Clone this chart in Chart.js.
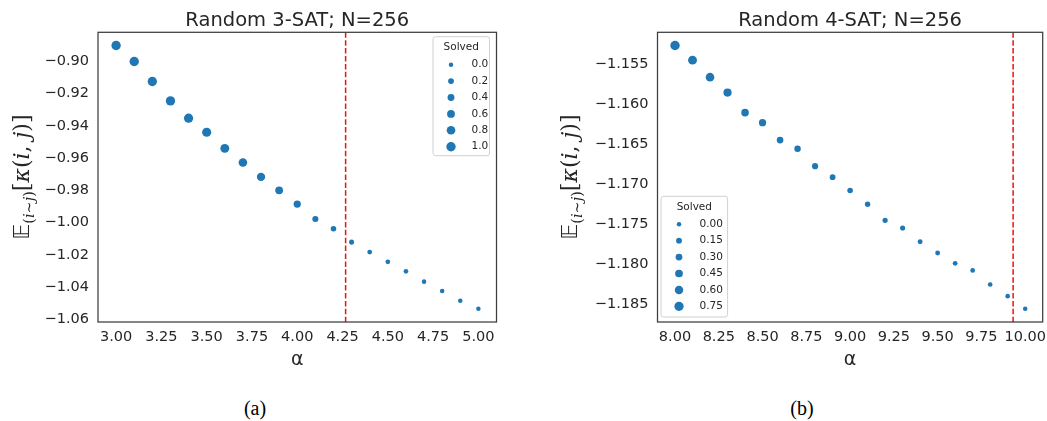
<!DOCTYPE html>
<html>
<head>
<meta charset="utf-8">
<script src="https://cdn.jsdelivr.net/npm/chart.js@4.4.1/dist/chart.umd.min.js"></script>
<style>
  html, body { margin: 0; padding: 0; background: #fff; overflow: hidden; width: 1047px; height: 421px; }
  .panel { position: absolute; top: 0; height: 372px; }
  .caption { position: absolute; top: 396px; width: 60px; text-align: center; font: 20px "Liberation Serif", "Times New Roman", serif; color: #000; line-height: 24px; }
</style>
</head>
<body>
<div class="panel" style="left:0;width:520px"><canvas id="chart3"></canvas></div>
<div class="panel" style="left:520px;width:550px"><canvas id="chart4"></canvas></div>
<div class="caption" style="left:225px">(a)</div>
<div class="caption" style="left:772px">(b)</div>
<script>
// --- 3-SAT panel ---
const alpha3 = [3.0, 3.1, 3.2, 3.3, 3.4, 3.5, 3.6, 3.7, 3.8, 3.9, 4.0, 4.1, 4.2, 4.3, 4.4, 4.5, 4.6, 4.7, 4.8, 4.9, 5.0];
const energy3 = [-0.8903, -0.9002, -0.9126, -0.9246, -0.9353, -0.9440, -0.9540, -0.9628, -0.9717, -0.9800, -0.9885,
                 -0.9978, -1.0038, -1.0121, -1.0183, -1.0243, -1.0302, -1.0366, -1.0424, -1.0484, -1.0534];
const solved3 = [1.0, 1.0, 0.98, 0.97, 0.95, 0.92, 0.87, 0.8, 0.72, 0.6, 0.48, 0.25, 0.16, 0.08, 0.05, 0.03, 0.02, 0.01, 0.01, 0, 0];
const xTicks3 = [3.0, 3.25, 3.5, 3.75, 4.0, 4.25, 4.5, 4.75, 5.0];
const yTicks3 = [-0.90, -0.92, -0.94, -0.96, -0.98, -1.00, -1.02, -1.04, -1.06];
const legendLevels3 = [0.0, 0.2, 0.4, 0.6, 0.8, 1.0];
const threshold3 = 4.267;

// --- 4-SAT panel ---
const alpha4 = [8.0, 8.1, 8.2, 8.3, 8.4, 8.5, 8.6, 8.7, 8.8, 8.9, 9.0, 9.1, 9.2, 9.3, 9.4, 9.5, 9.6, 9.7, 9.8, 9.9, 10.0];
const energy4 = [-1.15271, -1.15454, -1.15667, -1.15860, -1.16110, -1.16236, -1.16453, -1.16562, -1.16779, -1.16917, -1.17083,
                 -1.17255, -1.17456, -1.17552, -1.17723, -1.17865, -1.17994, -1.18082, -1.18258, -1.18404, -1.18562];
const solved4 = [0.78, 0.66, 0.62, 0.54, 0.42, 0.37, 0.28, 0.25, 0.2, 0.15, 0.12, 0.1, 0.08, 0.07, 0.05, 0.04, 0.03, 0.02, 0.02, 0.01, 0];
const xTicks4 = [8.0, 8.25, 8.5, 8.75, 9.0, 9.25, 9.5, 9.75, 10.0];
const yTicks4 = [-1.155, -1.160, -1.165, -1.170, -1.175, -1.180, -1.185];
const legendLevels4 = [0.0, 0.15, 0.30, 0.45, 0.60, 0.75];
const threshold4 = 9.931;

const BLUE = '#1f77b4';
const TEXT = '#262626';
const R_MIN = 2.25, R_MAX = 4.7;

function dotRadius(s, sMax) {
    return Math.sqrt(R_MIN * R_MIN + (R_MAX * R_MAX - R_MIN * R_MIN) * s / sMax);
}

function fmt(v, d) {
    return Number(v).toFixed(d).replace('-', '\u2212');
}

// draws frame, title, threshold line, y label and the size legend
function panelPlugin(p) {
    return {
        id: 'panel',
        beforeDatasetsDraw(chart) {
            const { ctx, chartArea: a } = chart;
            const px = chart.scales.x.getPixelForValue(p.threshold);
            ctx.save();
            ctx.strokeStyle = '#f01010';
            ctx.lineWidth = 1.5;
            ctx.setLineDash([5.5, 2.4]);
            ctx.beginPath();
            ctx.moveTo(px, a.top);
            ctx.lineTo(px, a.bottom);
            ctx.stroke();
            ctx.restore();
        },
        afterDraw(chart) {
            const { ctx, chartArea: a } = chart;
            ctx.save();
            // frame
            ctx.strokeStyle = '#3d3d3d';
            ctx.lineWidth = 1.25;
            ctx.strokeRect(a.left, a.top, a.right - a.left, a.bottom - a.top);

            // title
            ctx.fillStyle = TEXT;
            ctx.font = '19.5px "DejaVu Sans"';
            ctx.textAlign = 'center';
            ctx.textBaseline = 'alphabetic';
            ctx.fillText(p.title, (a.left + a.right) / 2, 26);

            // y label: E_(i~j)[kappa(i, j)]
            const big = 22, small = 14.5;
            const pieces = [
                ['\u{1D53C}', `${big}px "DejaVu Sans"`, 0],
                ['(', `${small}px "DejaVu Serif"`, 5],
                ['i', `italic ${small}px "DejaVu Serif"`, 5],
                ['\u223C', `${small}px "DejaVu Serif"`, 5],
                ['j', `italic ${small}px "DejaVu Serif"`, 5],
                [')', `${small}px "DejaVu Serif"`, 5],
                ['[', `${big}px "DejaVu Serif"`, 0],
                ['\u03BA', `italic ${big}px "DejaVu Serif"`, 0],
                ['(', `${big}px "DejaVu Serif"`, 0],
                ['i', `italic ${big}px "DejaVu Serif"`, 0],
                [', ', `${big}px "DejaVu Serif"`, 0],
                ['j', `italic ${big}px "DejaVu Serif"`, 0],
                [')', `${big}px "DejaVu Serif"`, 0],
                [']', `${big}px "DejaVu Serif"`, 0]
            ];
            let total = 0;
            pieces.forEach(pc => { ctx.font = pc[1]; total += ctx.measureText(pc[0]).width; });
            ctx.translate(p.yLabelX, (a.top + a.bottom) / 2);
            ctx.rotate(-Math.PI / 2);
            ctx.textAlign = 'left';
            let cx = -total / 2;
            pieces.forEach(pc => {
                ctx.font = pc[1];
                ctx.fillText(pc[0], cx, pc[2]);
                cx += ctx.measureText(pc[0]).width;
            });
            ctx.setTransform(1, 0, 0, 1, 0, 0);
            ctx.restore();

            // legend
            ctx.save();
            const L = p.legend;
            let bx, by;
            if (L.corner === 'tr') { bx = a.right - 7 - L.w; by = a.top + 4.4; }
            else { bx = a.left + 3.5; by = a.bottom - 5 - L.h; }
            ctx.beginPath();
            ctx.roundRect(bx, by, L.w, L.h, 2.5);
            ctx.fillStyle = 'rgba(255,255,255,0.8)';
            ctx.fill();
            ctx.strokeStyle = '#d0d0d0';
            ctx.lineWidth = 1;
            ctx.stroke();
            ctx.fillStyle = TEXT;
            ctx.font = '10.5px "DejaVu Sans"';
            ctx.textAlign = 'center';
            ctx.textBaseline = 'middle';
            ctx.fillText('Solved', bx + L.w / 2, by + 11);
            p.levels.forEach((lv, i) => {
                const cy = by + 28 + i * 16.4;
                ctx.beginPath();
                ctx.arc(bx + 18, cy, dotRadius(lv, p.sMax), 0, Math.PI * 2);
                ctx.fillStyle = BLUE;
                ctx.fill();
                ctx.fillStyle = TEXT;
                ctx.textAlign = 'left';
                ctx.fillText(fmt(lv, p.legendDigits), bx + 38.5, cy);
            });
            ctx.restore();
        }
    };
}

function makeChart(id, c) {
    const sMax = Math.max(...c.solved);
    return new Chart(document.getElementById(id), {
        type: 'scatter',
        data: {
            datasets: [{
                label: 'Solved',
                data: c.alpha.map((a, i) => ({ x: a, y: c.energy[i] })),
                backgroundColor: BLUE,
                borderWidth: 0,
                pointRadius: ctx => dotRadius(c.solved[ctx.dataIndex], sMax),
                pointHoverRadius: ctx => dotRadius(c.solved[ctx.dataIndex], sMax)
            }]
        },
        options: {
            responsive: true,
            maintainAspectRatio: false,
            animation: false,
            layout: { padding: { top: 32.3, right: c.padRight, left: 0, bottom: 0 } },
            plugins: {
                legend: { display: false },
                tooltip: { enabled: false },
                title: { display: false }
            },
            scales: {
                x: {
                    type: 'linear',
                    min: c.xMin,
                    max: c.xMax,
                    grid: { display: false, drawTicks: false },
                    border: { display: false },
                    afterBuildTicks: s => { s.ticks = c.xTicks.map(v => ({ value: v })); },
                    afterFit: s => { s.height = 50; },
                    ticks: {
                        padding: 7,
                        color: TEXT,
                        maxRotation: 0,
                        autoSkip: false,
                        font: { family: 'DejaVu Sans', size: 14.5 },
                        callback: v => fmt(v, 2)
                    },
                    title: {
                        display: true,
                        text: '\u03B1',
                        color: TEXT,
                        font: { family: 'DejaVu Sans', size: 19 },
                        padding: { top: 0, bottom: 0.5 }
                    }
                },
                y: {
                    type: 'linear',
                    min: c.yMin,
                    max: c.yMax,
                    grid: { display: false, drawTicks: false },
                    border: { display: false },
                    afterBuildTicks: s => { s.ticks = c.yTicks.map(v => ({ value: v })); },
                    afterFit: s => { s.width = c.yWidth; },
                    ticks: {
                        padding: 9,
                        color: TEXT,
                        autoSkip: false,
                        font: { family: 'DejaVu Sans', size: 14.5 },
                        callback: v => fmt(v, c.yDigits)
                    }
                }
            }
        },
        plugins: [panelPlugin({
            title: c.title,
            threshold: c.threshold,
            yLabelX: c.yLabelX,
            legend: c.legend,
            levels: c.levels,
            legendDigits: c.legendDigits,
            sMax: sMax
        })]
    });
}

makeChart('chart3', {
    title: 'Random 3-SAT; N=256',
    alpha: alpha3, energy: energy3, solved: solved3,
    xTicks: xTicks3, yTicks: yTicks3, levels: legendLevels3, threshold: threshold3,
    xMin: 2.9, xMax: 5.1, yMin: -1.0616, yMax: -0.8821,
    yWidth: 98, padRight: 23.5, yDigits: 2, yLabelX: 28.5,
    legend: { corner: 'tr', w: 56.5, h: 119 }, legendDigits: 1
});

makeChart('chart4', {
    title: 'Random 4-SAT; N=256',
    alpha: alpha4, energy: energy4, solved: solved4,
    xTicks: xTicks4, yTicks: yTicks4, levels: legendLevels4, threshold: threshold4,
    xMin: 7.9, xMax: 10.1, yMin: -1.18727, yMax: -1.15106,
    yWidth: 137.5, padRight: 27.3, yDigits: 3, yLabelX: 56.7,
    legend: { corner: 'bl', w: 66.6, h: 120.7 }, legendDigits: 2
});
</script>
</body>
</html>
